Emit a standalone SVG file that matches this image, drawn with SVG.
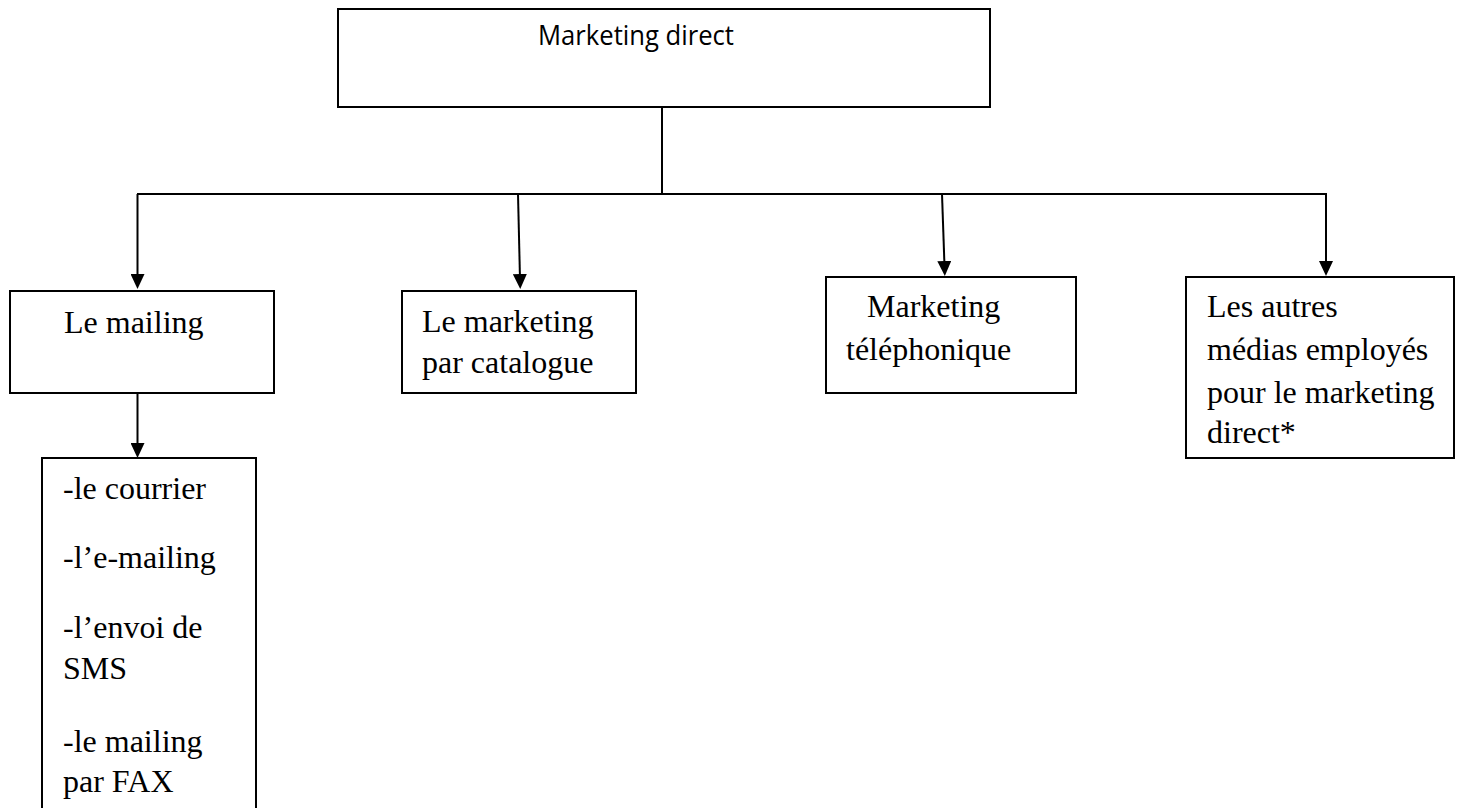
<svg xmlns="http://www.w3.org/2000/svg" width="1461" height="808" viewBox="0 0 1461 808">
  <style>
    .box { fill: #ffffff; stroke: #000000; stroke-width: 2; }
    .link { fill: none; stroke: #000000; stroke-width: 2; }
    .serif { font-family: "Liberation Serif", "Times New Roman", serif; font-size: 32px; fill: #000000; }
    .sans { font-family: "Open Sans", "Liberation Sans", sans-serif; font-size: 27px; fill: #000000; }
  </style>
  <defs>
    <marker id="arrow" markerUnits="userSpaceOnUse" markerWidth="15" markerHeight="14" refX="5" refY="7" orient="auto">
      <path d="M0,0 L15,7 L0,14 z" fill="#000000"/>
    </marker>
  </defs>
  <rect width="1461" height="808" fill="#ffffff"/>

  <!-- connectors -->
  <g id="connectors">
    <line class="link" x1="662" y1="107" x2="662" y2="194" stroke-width="1.5"/>
    <line class="link" x1="137" y1="194" x2="1327" y2="194"/>
    <line class="link" x1="137.5" y1="194" x2="137.5" y2="279" marker-end="url(#arrow)"/>
    <line class="link" x1="518" y1="194" x2="520" y2="279" marker-end="url(#arrow)"/>
    <line class="link" x1="942" y1="194" x2="944.5" y2="266" marker-end="url(#arrow)"/>
    <line class="link" x1="1326" y1="194" x2="1326" y2="266" marker-end="url(#arrow)"/>
    <line class="link" x1="137.5" y1="393" x2="137.5" y2="448" marker-end="url(#arrow)"/>
  </g>

  <!-- root -->
  <g id="node-marketing-direct">
    <rect class="box" x="338" y="9" width="652" height="98" stroke-width="1.5"/>
    <text class="sans" x="538" y="45" textLength="196" lengthAdjust="spacingAndGlyphs">Marketing direct</text>
  </g>

  <g id="node-mailing">
    <rect class="box" x="10" y="291" width="264" height="102"/>
    <text class="serif" x="64" y="333">Le mailing</text>
  </g>

  <g id="node-catalogue">
    <rect class="box" x="402" y="291" width="234" height="102"/>
    <text class="serif" x="422" y="332">Le marketing</text>
    <text class="serif" x="422" y="373">par catalogue</text>
  </g>

  <g id="node-telephonique">
    <rect class="box" x="826" y="277" width="250" height="116"/>
    <text class="serif" x="867" y="317">Marketing</text>
    <text class="serif" x="846" y="360">téléphonique</text>
  </g>

  <g id="node-autres-medias">
    <rect class="box" x="1186" y="277" width="268" height="181"/>
    <text class="serif" x="1207" y="317">Les autres</text>
    <text class="serif" x="1207" y="360">médias employés</text>
    <text class="serif" x="1207" y="403">pour le marketing</text>
    <text class="serif" x="1207" y="443">direct*</text>
  </g>

  <g id="node-mailing-types">
    <rect class="box" x="42" y="458" width="214" height="360"/>
    <text class="serif" x="63" y="499">-le courrier</text>
    <text class="serif" x="63" y="568">-l’e-mailing</text>
    <text class="serif" x="63" y="638">-l’envoi de</text>
    <text class="serif" x="63" y="679">SMS</text>
    <text class="serif" x="63" y="752">-le mailing</text>
    <text class="serif" x="63" y="792">par FAX</text>
  </g>
</svg>
